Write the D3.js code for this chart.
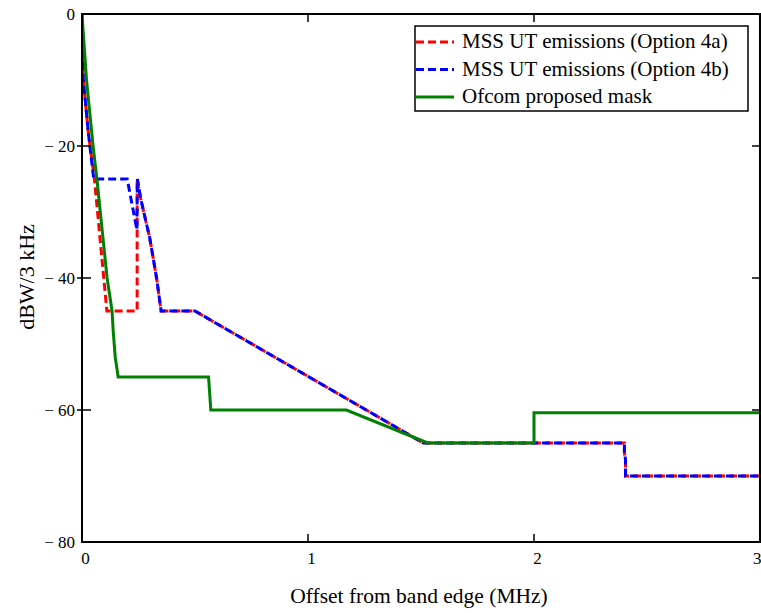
<!DOCTYPE html>
<html>
<head>
<meta charset="utf-8">
<script src="https://cdn.jsdelivr.net/npm/d3@7"></script>
<style>
  body { margin: 0; background: #fff; }
  svg { display: block; }
  text { font-family: "Liberation Serif", "Times New Roman", serif; fill: #000; }
</style>
</head>
<body>
<svg id="chart" width="761" height="613"></svg>
<script>
"use strict";

// eixos
var xTicks = [0, 1, 2, 3];
var yTicks = [0, -20, -40, -60, -80];

// series (MHz, dBW/3 kHz)
var option4a = [
    [0, 0], [0.006, -10], [0.028, -18], [0.055, -25], [0.11, -45],
    [0.244, -45], [0.244, -25], [0.26, -28], [0.30, -34], [0.33, -40],
    [0.35, -45], [0.50, -45], [1.51, -65], [2.40, -65], [2.40, -66.5],
    [2.405, -67.5], [2.405, -70], [3, -70]
];

var option4b = [
    [0, 0], [0.006, -10], [0.028, -18], [0.052, -25], [0.20, -25],
    [0.243, -32.7], [0.245, -25], [0.26, -28], [0.30, -34], [0.33, -40],
    [0.35, -45], [0.50, -45], [1.51, -65], [2.40, -65], [2.40, -66.5],
    [2.405, -67.5], [2.405, -70], [3, -70]
];

var ofcomMask = [
    [0, 0], [0.02, -10], [0.049, -20], [0.066, -25], [0.09, -33],
    [0.111, -40], [0.133, -45], [0.138, -48], [0.147, -52], [0.16, -55],
    [0.56, -55], [0.57, -60], [1.17, -60], [1.53, -65], [2.0, -65],
    [2.0, -60.4], [3, -60.4]
];

var legendLabels = [
    "MSS UT emissions (Option 4a)",
    "MSS UT emissions (Option 4b)",
    "Ofcom proposed mask"
];

var svg = d3.select("#chart");

var x = d3.scaleLinear().domain([0, 3]).range([82, 760]);
var y = d3.scaleLinear().domain([-80, 0]).range([542, 14]);

function rotulo(d) {
    return d === 0 ? "0" : "\u2212 " + Math.abs(d);
}

svg.append("clipPath").attr("id", "area")
    .append("rect")
    .attr("x", 82).attr("y", 14)
    .attr("width", 678).attr("height", 528);

var linha = d3.line()
    .x(function (d) { return x(d[0]); })
    .y(function (d) { return y(d[1]); });

var gDados = svg.append("g").attr("clip-path", "url(#area)");

gDados.append("path")
    .datum(option4a)
    .attr("d", linha)
    .attr("fill", "none")
    .attr("stroke", "#ff0000")
    .attr("stroke-width", 3)
    .attr("stroke-dasharray", "8,4")
    .attr("stroke-dashoffset", 6);

gDados.append("path")
    .datum(option4b)
    .attr("d", linha)
    .attr("fill", "none")
    .attr("stroke", "#0000ff")
    .attr("stroke-width", 3)
    .attr("stroke-dasharray", "8,4");

gDados.append("path")
    .datum(ofcomMask)
    .attr("d", linha)
    .attr("fill", "none")
    .attr("stroke", "#008000")
    .attr("stroke-width", 3);

// caixa do grafico
svg.append("rect")
    .attr("x", 82).attr("y", 14)
    .attr("width", 678).attr("height", 528)
    .attr("fill", "none")
    .attr("stroke", "#000")
    .attr("stroke-width", 2);

var eixoX = d3.axisBottom(x)
    .tickValues(xTicks)
    .tickSize(0)
    .tickPadding(10)
    .tickFormat(d3.format("d"));

var gx = svg.append("g")
    .attr("transform", "translate(0,542)")
    .call(eixoX);
gx.select(".domain").remove();
gx.selectAll("text")
    .attr("font-family", "Liberation Serif")
    .attr("font-size", 17)
    .attr("dx", 3);
// o "3" fica encostado na borda direita
gx.selectAll("text")
    .filter(function (d) { return d === 3; })
    .attr("text-anchor", "end")
    .attr("dx", 1);

var eixoY = d3.axisLeft(y)
    .tickValues(yTicks)
    .tickSize(0)
    .tickPadding(7)
    .tickFormat(rotulo);

var gy = svg.append("g")
    .attr("transform", "translate(82,0)")
    .call(eixoY);
gy.select(".domain").remove();
gy.selectAll("text")
    .attr("font-family", "Liberation Serif")
    .attr("font-size", 17);

// marcas internas
var tickX = xTicks.filter(function (d) { return d > 0 && d < 3; });
var tickY = yTicks.filter(function (d) { return d > -80 && d < 0; });

svg.append("g").selectAll("line.bx")
    .data(tickX).enter().append("line")
    .attr("x1", x).attr("x2", x)
    .attr("y1", 542).attr("y2", 534)
    .attr("stroke", "#000").attr("stroke-width", 1.5);

svg.append("g").selectAll("line.tx")
    .data(tickX).enter().append("line")
    .attr("x1", x).attr("x2", x)
    .attr("y1", 14).attr("y2", 22)
    .attr("stroke", "#000").attr("stroke-width", 1.5);

svg.append("g").selectAll("line.ly")
    .data(tickY).enter().append("line")
    .attr("x1", 77).attr("x2", 91)
    .attr("y1", y).attr("y2", y)
    .attr("stroke", "#000").attr("stroke-width", 1.5);

svg.append("g").selectAll("line.ry")
    .data(tickY).enter().append("line")
    .attr("x1", 760).attr("x2", 752)
    .attr("y1", y).attr("y2", y)
    .attr("stroke", "#000").attr("stroke-width", 1.5);

// titulos dos eixos
svg.append("text")
    .attr("x", 419).attr("y", 603)
    .attr("text-anchor", "middle")
    .attr("font-size", 21.5)
    .text("Offset from band edge (MHz)");

svg.append("text")
    .attr("transform", "translate(34,277) rotate(-90)")
    .attr("text-anchor", "middle")
    .attr("font-size", 22)
    .text("dBW/3 kHz");

// legenda
var legenda = svg.append("g");
legenda.append("rect")
    .attr("x", 415).attr("y", 26)
    .attr("width", 333).attr("height", 85)
    .attr("fill", "#fff")
    .attr("stroke", "#000")
    .attr("stroke-width", 1.5);

var estilos = [
    { cor: "#ff0000", traco: "8,4" },
    { cor: "#0000ff", traco: "8,4" },
    { cor: "#008000", traco: null }
];

var itens = legenda.selectAll("g.item")
    .data(legendLabels).enter().append("g")
    .attr("transform", function (d, i) { return "translate(0," + (42 + i * 27.5) + ")"; });

itens.append("line")
    .attr("x1", 416).attr("x2", 454)
    .attr("y1", 0).attr("y2", 0)
    .attr("stroke", function (d, i) { return estilos[i].cor; })
    .attr("stroke-width", 3)
    .attr("stroke-dasharray", function (d, i) { return estilos[i].traco; });

itens.append("text")
    .attr("x", 462).attr("y", 6)
    .attr("font-size", 21)
    .text(function (d) { return d; });
</script>
</body>
</html>
